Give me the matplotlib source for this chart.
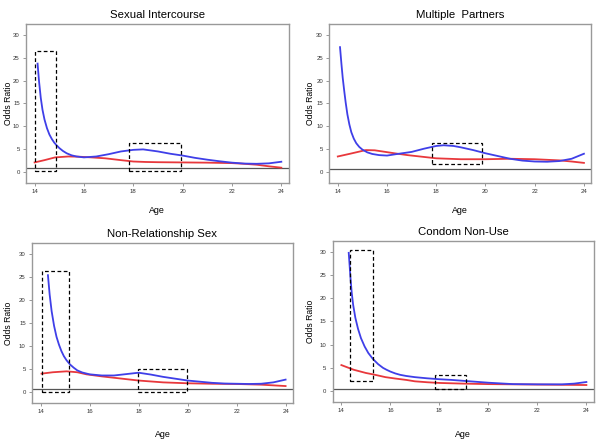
import matplotlib.pyplot as plt
from matplotlib.patches import Rectangle

plt.rcParams['font.family'] = ['Liberation Sans', 'DejaVu Sans']

### data  (age, odds ratio)
titles = ['Sexual Intercourse', 'Multiple  Partners', 'Non-Relationship Sex', 'Condom Non-Use']

si_blue_x = [14.12, 14.18, 14.25, 14.32, 14.4, 14.5, 14.6, 14.7, 14.8, 14.9, 15.0, 15.15, 15.3, 15.5,
             15.7, 16.0, 16.5, 17.0, 17.5, 18.0, 18.4, 19.0, 19.5, 20.0, 20.5, 21.0, 21.5, 22.0,
             22.5, 23.0, 23.5, 24.0]
si_blue_y = [23.7, 19.8, 16.2, 13.6, 11.5, 9.6, 8.2, 7.2, 6.4, 5.8, 5.25, 4.6, 4.1, 3.65,
             3.4, 3.2, 3.4, 3.9, 4.5, 4.85, 4.95, 4.5, 4.0, 3.6, 3.1, 2.7, 2.35, 2.05,
             1.85, 1.8, 1.9, 2.25]
si_red_x = [14.0, 14.4, 14.83, 15.37, 15.8, 16.3, 16.86, 17.5, 18.0, 18.5, 19.0, 20.0, 21.0, 22.0,
            22.5, 23.0, 23.5, 24.0]
si_red_y = [2.1, 2.6, 3.2, 3.4, 3.35, 3.2, 3.0, 2.6, 2.3, 2.2, 2.15, 2.1, 2.05, 1.95,
            1.8, 1.6, 1.25, 0.95]

mp_blue_x = [14.09, 14.15, 14.2, 14.26, 14.32, 14.39, 14.47, 14.55, 14.65, 14.75, 14.87, 15.0, 15.2,
             15.4, 15.68, 16.0, 16.36, 17.0, 17.5, 18.0, 18.3, 18.7, 19.0, 19.5, 20.0, 20.5, 21.0,
             21.5, 22.0, 22.5, 23.0, 23.5, 24.0]
mp_blue_y = [27.3, 23.5, 20.6, 17.8, 15.2, 12.6, 10.4, 8.7, 7.3, 6.3, 5.5, 4.9, 4.3,
             3.95, 3.7, 3.6, 3.9, 4.4, 5.1, 5.7, 5.85, 5.7, 5.4, 4.8, 4.1, 3.5, 2.9,
             2.5, 2.3, 2.25, 2.4, 2.9, 4.0]
mp_red_x = [14.0, 14.5, 15.14, 15.5, 15.81, 16.3, 16.83, 17.5, 18.0, 18.5, 19.0, 20.0, 21.0, 22.0,
            23.0, 23.5, 24.0]
mp_red_y = [3.4, 4.0, 4.8, 4.75, 4.5, 4.1, 3.7, 3.3, 3.0, 2.9, 2.8, 2.8, 2.9, 2.8,
            2.55, 2.3, 2.0]

nr_blue_x = [14.3, 14.37, 14.45, 14.55, 14.65, 14.75, 14.85, 14.95, 15.06, 15.2, 15.35, 15.5, 15.7,
             16.0, 16.5, 17.0, 17.5, 18.0, 18.5, 19.0, 19.5, 20.0, 20.5, 21.0, 21.5, 22.0, 22.5,
             23.0, 23.5, 24.0]
nr_blue_y = [25.4, 21.2, 17.6, 14.4, 12.0, 10.3, 8.9, 7.8, 6.9, 6.0, 5.3, 4.7, 4.25,
             3.85, 3.6, 3.6, 3.9, 4.2, 3.8, 3.3, 2.9, 2.5, 2.25, 2.0, 1.85, 1.8, 1.75,
             1.8, 2.1, 2.7]
nr_red_x = [14.04, 14.5, 15.06, 15.5, 15.87, 16.5, 17.0, 17.5, 18.0, 18.5, 19.0, 20.0, 21.0, 22.0,
            23.0, 24.0]
nr_red_y = [4.0, 4.3, 4.5, 4.3, 3.85, 3.4, 3.1, 2.8, 2.5, 2.3, 2.1, 1.9, 1.8, 1.75,
            1.6, 1.3]

cn_blue_x = [14.3, 14.34, 14.37, 14.42, 14.48, 14.57, 14.68, 14.8, 14.95, 15.1, 15.29, 15.5, 15.7,
             15.84, 16.0, 16.2, 16.4, 16.65, 17.0, 17.5, 18.0, 18.5, 19.0, 19.5, 20.0, 20.5, 21.0,
             22.0, 23.0, 23.5, 24.0]
cn_blue_y = [29.8, 26.8, 24.5, 21.3, 18.6, 15.8, 13.4, 11.4, 9.6, 8.2, 6.9, 5.8, 5.0,
             4.6, 4.2, 3.8, 3.5, 3.25, 3.0, 2.75, 2.55, 2.4, 2.2, 2.0, 1.8, 1.65, 1.5,
             1.45, 1.45, 1.6, 1.95]
cn_red_x = [14.0, 14.5, 15.0, 15.29, 15.8, 16.2, 16.65, 17.0, 17.5, 18.0, 19.0, 20.0, 21.0, 22.0,
            23.0, 24.0]
cn_red_y = [5.6, 4.6, 3.9, 3.6, 3.0, 2.7, 2.4, 2.1, 1.9, 1.75, 1.6, 1.5, 1.45, 1.4,
            1.35, 1.3]

# dashed boxes: (age from, age to, OR from, OR to)
si_boxes = [(14.0, 14.85, 0.3, 26.5), (17.83, 19.93, 0.3, 6.4)]
mp_boxes = [(17.83, 19.87, 1.7, 6.4)]
nr_boxes = [(14.07, 15.14, 0.07, 26.3), (17.96, 19.97, 0.07, 4.9)]
cn_boxes = [(14.37, 15.29, 2.2, 30.4), (17.84, 19.09, 0.36, 3.4)]

ref_lines = [0.8, 0.6, 0.6, 0.4]

panels = [
    (si_blue_x, si_blue_y, si_red_x, si_red_y, si_boxes),
    (mp_blue_x, mp_blue_y, mp_red_x, mp_red_y, mp_boxes),
    (nr_blue_x, nr_blue_y, nr_red_x, nr_red_y, nr_boxes),
    (cn_blue_x, cn_blue_y, cn_red_x, cn_red_y, cn_boxes),
]

# axes positions in figure fraction
positions = [[0.043, 0.585, 0.435, 0.361],
             [0.545, 0.585, 0.434, 0.361],
             [0.053, 0.086, 0.432, 0.363],
             [0.551, 0.088, 0.432, 0.366]]
xlab_y = [-0.145, -0.145, -0.169, -0.175]
ylab_x = [-0.05, -0.053, -0.072, -0.07]

fig = plt.figure(figsize=(6.04, 4.41), dpi=100)

for i, (bx, by, rx, ry, boxes) in enumerate(panels):
    ax = fig.add_axes(positions[i])
    ax.axhline(ref_lines[i], color='#555555', linewidth=0.9, zorder=1)
    ax.plot(bx, by, color='#3f3fe8', linewidth=1.3, zorder=3, solid_joinstyle='round')
    ax.plot(rx, ry, color='#e8383c', linewidth=1.3, zorder=2, solid_joinstyle='round')
    for x0, x1, y0, y1 in boxes:
        ax.add_patch(Rectangle((x0, y0), x1 - x0, y1 - y0, fill=False, edgecolor='black',
                               linestyle=(0, (3, 2)), linewidth=0.9, zorder=4))
    ax.set_xlim(13.65, 24.3)
    ax.set_ylim(-2.4, 32.4)
    ax.set_xticks([14, 16, 18, 20, 22, 24])
    ax.set_yticks([0, 5, 10, 15, 20, 25, 30])
    ax.tick_params(labelsize=4.3, length=2.5, width=0.6, color='#888888', labelcolor='#333333', pad=2)
    for s in ax.spines.values():
        s.set_color('#999999')
        s.set_linewidth(1.0)
    ax.set_title(titles[i], fontsize=8.2, pad=4)
    ax.set_xlabel('Age', fontsize=6.4)
    ax.set_ylabel('Odds Ratio', fontsize=6.2)
    ax.xaxis.set_label_coords(0.5, xlab_y[i])
    ax.yaxis.set_label_coords(ylab_x[i], 0.5)

plt.savefig('out.png', dpi=100)
